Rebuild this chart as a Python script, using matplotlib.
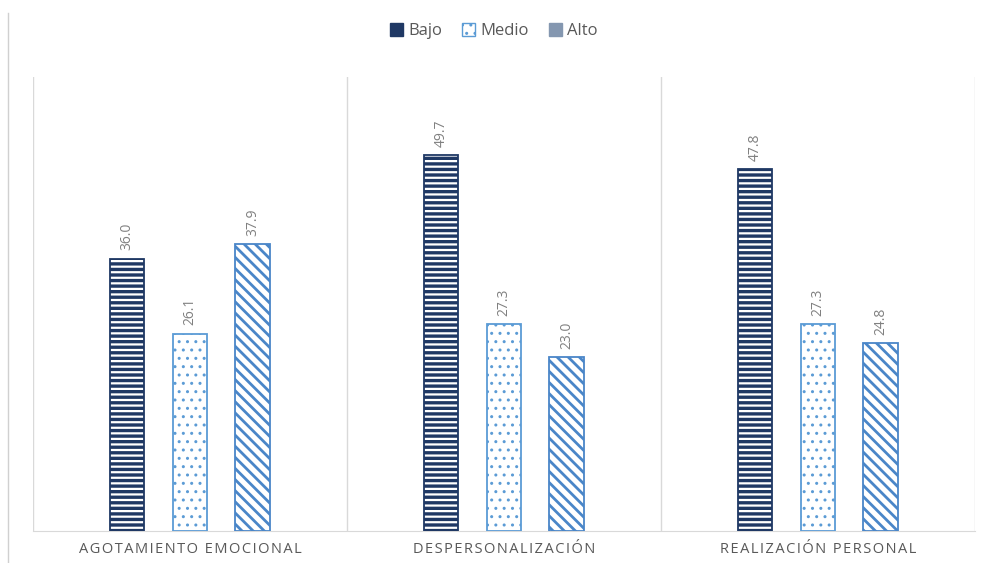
import matplotlib
matplotlib.use("Agg")
import matplotlib.pyplot as plt
import numpy as np
from matplotlib.patches import Patch
from matplotlib.lines import Line2D

CATEGORIES = ["AGOTAMIENTO EMOCIONAL", "DESPERSONALIZACIÓN", "REALIZACIÓN PERSONAL"]
BAJO = [36.0, 49.7, 47.8]
MEDIO = [26.1, 27.3, 27.3]
ALTO = [37.9, 23.0, 24.8]

NAVY = "#1F3864"
LIGHT = "#5B9BD5"
MID = "#4A86C8"
GRID = "#D9D9D9"
TXT = "#595959"

plt.rcParams["font.family"] = ["Open Sans", "DejaVu Sans"]


def spaced(s):
    return "\u200a".join(s)


fig = plt.figure(figsize=(9.87, 5.63), dpi=100)
ax = fig.add_axes([0.0334, 0.0568, 0.9544, 0.8064])

x = np.arange(len(CATEGORIES))
w = 0.11
series = [
    ("Bajo", BAJO, -0.2, NAVY, "---", 2.4),
    ("Medio", MEDIO, 0.0, LIGHT, "..", 1.0),
    ("Alto", ALTO, 0.2, MID, "\\\\\\", 2.0),
]
for name, vals, off, col, hatch, hlw in series:
    with plt.rc_context({"hatch.linewidth": hlw}):
        bars = ax.bar(x + off, vals, w, facecolor="white", edgecolor=col,
                      hatch=hatch, lw=1.3, zorder=3)
    for b, v in zip(bars, vals):
        ax.annotate(f"{v:.1f}", (b.get_x() + b.get_width() / 2, v),
                    xytext=(0, 6), textcoords="offset points",
                    rotation=90, ha="center", va="bottom",
                    fontsize=10, color="#808080")

ax.set_xlim(-0.5, len(CATEGORIES) - 0.5)
ax.set_ylim(0, 60)
ax.set_yticks([])
ax.set_xticks(x)
ax.set_xticklabels([spaced(c) for c in CATEGORIES], fontsize=10.5, color=TXT)
ax.tick_params(axis="x", length=0, pad=8)
for b in np.arange(-0.5, len(CATEGORIES), 1.0):
    ax.axvline(b, color=GRID, lw=1, zorder=1)
for s in ["top", "left", "right"]:
    ax.spines[s].set_visible(False)
ax.spines["bottom"].set_color(GRID)

# chart frame on the left
fig.add_artist(Line2D([8 / 987, 8 / 987], [0, 1 - 13 / 563],
                      transform=fig.transFigure, color="#D0D0D0", lw=1))

handles = [
    Patch(facecolor=NAVY, edgecolor=NAVY),
    Patch(facecolor="white", edgecolor=LIGHT, hatch=".."),
    Patch(facecolor="#8497B0", edgecolor="#8497B0"),
]
fig.legend(handles, ["Bajo", "Medio", "Alto"], loc="center",
           bbox_to_anchor=(0.5, 1 - 31 / 563), ncol=3, frameon=False,
           fontsize=12, labelcolor=TXT, handlelength=0.8, handleheight=0.8,
           handletextpad=0.3, columnspacing=1.2)

fig.savefig("out.png", dpi=100)
